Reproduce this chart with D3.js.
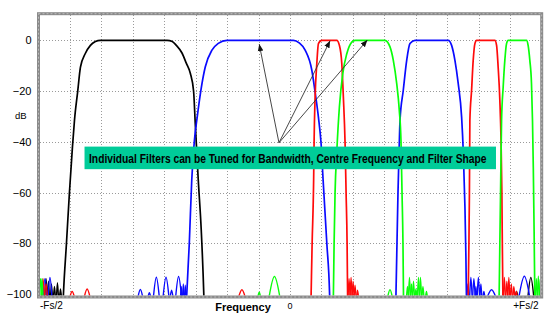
<!DOCTYPE html>
<html><head><meta charset="utf-8">
<script src="https://cdnjs.cloudflare.com/ajax/libs/d3/7.8.5/d3.min.js"></script>
<style>
html,body{margin:0;padding:0;background:#fff;}
svg{display:block;font-family:"Liberation Sans",Arial,sans-serif;}
</style></head>
<body>
<svg id="chart" width="552" height="323"></svg>
<script>
// ---------- DATA ----------
const freqTicks = [-0.5, 0, 0.5];
const freqTickLabels = ["-Fs/2", "0", "+Fs/2"];
const dbTicks = [0, -20, -40, -60, -80, -100];
const gridFreqs = d3.range(-7, 8).map(k => k / 16);
const gridDbs = [0, -20, -40, -60, -80];

// filter main responses [normalised frequency, dB]
const filterBlack = [[-0.4524,-110],[-0.4504,-100],[-0.4444,-80],[-0.4385,-60],[-0.4325,-42],[-0.4285,-31.6],[-0.4220,-20],[-0.4166,-10.6],[-0.4067,-5.1],[-0.3968,-2],[-0.3869,-0.5],[-0.3770,0],
  [-0.2445,0],[-0.2340,-0.5],[-0.2260,-2],[-0.2147,-5],[-0.2062,-9],[-0.1982,-13],[-0.1917,-20],[-0.1883,-33],[-0.1824,-55],[-0.1764,-75],[-0.1714,-100],[-0.1700,-110]];
const filterBlue1 = [[-0.2072,-110],[-0.2052,-100],[-0.2002,-80],[-0.1953,-55],[-0.1903,-40],[-0.1843,-30],[-0.1774,-20],[-0.1685,-10.5],[-0.1552,-3.9],[-0.1426,-1.2],[-0.1254,0],
  [0.0068,0],[0.0182,-1],[0.0301,-3.9],[0.0434,-11.8],[0.0499,-20.4],[0.0565,-30.3],[0.0618,-40.7],[0.0658,-55],[0.0732,-80],[0.0787,-100],[0.0800,-110]];
const filterRed1 = [[0.0410,-110],[0.0420,-100],[0.0440,-80],[0.0470,-55],[0.0479,-40],[0.0499,-22.4],[0.0533,-9.2],[0.0565,-1.3],[0.0632,0],
  [0.0930,0],[0.0982,-2],[0.1029,-9],[0.1061,-22.4],[0.1095,-40.6],[0.1115,-60],[0.1135,-80],[0.1145,-100],[0.1155,-110]];
const filterGreen1 = [[0.0853,-110],[0.0863,-100],[0.0877,-80],[0.0896,-60],[0.0930,-44],[0.0982,-26.3],[0.1049,-13.1],[0.1129,-5.3],[0.1228,-0.7],[0.1293,0],
  [0.1889,0],[0.1988,-2.6],[0.2054,-7.9],[0.2121,-17],[0.2173,-27.6],[0.2207,-40],[0.2227,-60],[0.2246,-80],[0.2256,-100],[0.2266,-110]];
const filterBlue2 = [[0.2097,-110],[0.2107,-100],[0.2127,-80],[0.2147,-60],[0.2167,-45],[0.2187,-31.6],[0.2252,-19.7],[0.2320,-7.9],[0.2385,-1.3],[0.2485,0],
  [0.3146,0],[0.3213,-2],[0.3279,-7.9],[0.3344,-17],[0.3412,-30.3],[0.3447,-45],[0.3477,-65],[0.3497,-85],[0.3507,-100],[0.3517,-110]];
const filterRed2 = [[0.3533,-110],[0.3543,-100],[0.3557,-80],[0.3567,-60],[0.3576,-31.6],[0.3610,-19.7],[0.3642,-7.9],[0.3676,-1.3],[0.3710,0],
  [0.4073,0],[0.4107,-2],[0.4138,-10.5],[0.4172,-23.7],[0.4196,-40],[0.4212,-60],[0.4221,-80],[0.4232,-100],[0.4242,-110]];
const filterGreen2 = [[0.4148,-110],[0.4158,-100],[0.4172,-80],[0.4186,-60],[0.4206,-31.6],[0.4238,-18.4],[0.4271,-7.9],[0.4305,-1.3],[0.4337,0],
  [0.4702,0],[0.4734,-2],[0.4768,-7.9],[0.4801,-17],[0.4821,-31.6],[0.4837,-50],[0.4853,-75],[0.4867,-100],[0.4877,-110]];

// stopband side lobes [centre frequency, lobe width, peak dB]
const lobesBlack = [[-0.4850,0.005,-94],[-0.4802,0.004,-95],[-0.4742,0.004,-96],[-0.4683,0.004,-97],[-0.4623,0.004,-95.5],[-0.4563,0.004,-98],[0.4504,0.006,-99],[0.4788,0.012,-93.5]];
const lobesBlue = [[-0.4871,0.008,-94],[-0.4772,0.008,-93.5],[-0.2975,0.010,-98.2],[-0.2796,0.006,-99.5],[-0.2657,0.012,-93.4],[-0.2465,0.012,-93.4],[-0.2354,0.006,-98.5],[-0.2215,0.012,-93.1],[-0.2161,0.003,-97],[-0.2121,0.003,-96],[-0.2082,0.003,-96.5],
  [0.3537,0.004,-96],[0.3596,0.005,-93.5],[0.3656,0.005,-94],[0.3696,0.003,-97],[0.3745,0.005,-93.5],[0.3795,0.004,-96],[0.3855,0.004,-99],[0.4007,0.018,-98.3],[0.4659,0.022,-93]];
const lobesRed = [[-0.4911,0.006,-94],[-0.4851,0.006,-96],[-0.4331,0.010,-99],[-0.4033,0.012,-98],[-0.0956,0.014,-98.3],
  [0.1174,0.004,-94],[0.1214,0.004,-93.5],[0.1254,0.004,-95],[0.1293,0.004,-96.5],[0.1343,0.004,-98.5],
  [0.4262,0.004,-93.5],[0.4311,0.004,-95],[0.4351,0.004,-93.5],[0.4400,0.004,-96],[0.4450,0.004,-97],[0.4500,0.004,-99]];
const lobesGreen = [[-0.4960,0.005,-94],[-0.4931,0.004,-94],[-0.0612,0.006,-99.3],[-0.0309,0.022,-93.1],[0.1988,0.010,-98.3],
  [0.2336,0.004,-97],[0.2375,0.004,-93.5],[0.2415,0.004,-96],[0.2455,0.004,-95],[0.2504,0.004,-98],[0.2554,0.004,-93.5],[0.2594,0.004,-93.5],[0.2643,0.004,-97],[0.2713,0.004,-99],
  [0.4897,0.004,-94],[0.4937,0.004,-93],[0.4976,0.004,-94]];

// annotation (data coordinates)
const noteText = "Individual Filters can be Tuned for Bandwidth, Centre Frequency and Filter Shape";
const noteBoxCorners = [[-0.4085,-41.9],[0.4095,-50.8]];
const arrowOrigin = [-0.0219,-40.4];
const arrowTargets = [[-0.0612,-1.5],[0.0797,-0.2],[0.1538,0.1]];

// ---------- CHART ----------
const svg = d3.select("#chart");
const x = d3.scaleLinear().domain([-0.5, 0.5]).range([38.5, 541.5]);
const y = d3.scaleLinear().domain([-100, 0]).range([294, 40.3]);
const plotTop = 15, plotBottom = 295.5, plotLeft = 40, plotRight = 540;

const defs = svg.append("defs");
defs.append("clipPath").attr("id","clip")
  .append("rect").attr("x",plotLeft).attr("y",plotTop).attr("width",plotRight-plotLeft).attr("height",plotBottom-plotTop);
defs.append("marker").attr("id","ah").attr("viewBox","0 0 10 10").attr("refX",10).attr("refY",5)
  .attr("markerWidth",7).attr("markerHeight",7).attr("markerUnits","userSpaceOnUse").attr("orient","auto")
  .append("path").attr("d","M0,1 L10,5 L0,9 Z").attr("fill","#111");

// grid
const grid = svg.append("g").attr("stroke","#9a9a9a").attr("stroke-width",1).attr("stroke-dasharray","1,2");
grid.selectAll("line.v").data(gridFreqs).join("line").attr("class","v")
  .attr("x1",d=>Math.round(x(d))+0.5).attr("x2",d=>Math.round(x(d))+0.5).attr("y1",plotTop).attr("y2",plotBottom);
grid.selectAll("line.h").data(gridDbs).join("line").attr("class","h")
  .attr("y1",d=>Math.round(y(d))+0.5).attr("y2",d=>Math.round(y(d))+0.5).attr("x1",plotLeft).attr("x2",plotRight);

// curves
const plot = svg.append("g").attr("clip-path","url(#clip)");
const line = d3.line().x(d=>x(d[0])).y(d=>y(d[1])).curve(d3.curveMonotoneX);
const lobeLine = d3.line().x(d=>x(d[0])).y(d=>y(d[1])).curve(d3.curveNatural);
const lobePts = l => [[l[0]-l[1]/2,-101.5],[l[0],l[2]],[l[0]+l[1]/2,-101.5]];

const series = [
  {curves:[filterBlack], lobes:lobesBlack, color:"#000000"},
  {curves:[filterBlue1, filterBlue2], lobes:lobesBlue, color:"#0a0aff"},
  {curves:[filterRed1, filterRed2], lobes:lobesRed, color:"#ff0a0a"},
  {curves:[filterGreen1, filterGreen2], lobes:lobesGreen, color:"#0aff0a"}
];
series.forEach(s=>{
  const g = plot.append("g").attr("fill","none").attr("stroke",s.color).attr("stroke-width",1.7);
  g.selectAll("path.lobe").data(s.lobes).join("path").attr("class","lobe").attr("d",l=>lobeLine(lobePts(l))).attr("stroke-width",1.4);
  g.selectAll("path.main").data(s.curves).join("path").attr("class","main").attr("d",line);
});

// frame
svg.append("rect").attr("x",38.5).attr("y",13.7).attr("width",541.7-38.5).attr("height",297-13.7)
  .attr("fill","none").attr("stroke","#8a8a8a").attr("stroke-width",3);
svg.append("rect").attr("x",38.5).attr("y",13.7).attr("width",541.7-38.5).attr("height",297-13.7)
  .attr("fill","none").attr("stroke","#c8c8c8").attr("stroke-width",0.8).attr("stroke-dasharray","2,2");

// arrows
svg.append("g").selectAll("line").data(arrowTargets).join("line")
  .attr("x1",x(arrowOrigin[0])).attr("y1",y(arrowOrigin[1]))
  .attr("x2",d=>x(d[0])).attr("y2",d=>y(d[1]))
  .attr("stroke","#333").attr("stroke-width",0.9).attr("marker-end","url(#ah)");

// note box
const bx0 = x(noteBoxCorners[0][0]), by0 = y(noteBoxCorners[0][1]);
const bx1 = x(noteBoxCorners[1][0]), by1 = y(noteBoxCorners[1][1]);
svg.append("rect").attr("x",bx0).attr("y",by0).attr("width",bx1-bx0).attr("height",by1-by0).attr("fill","#00cc99");
const noteCx = (bx0+bx1)/2 - 2.5;
const note = svg.append("text").attr("x",0).attr("y",0).attr("text-anchor","middle")
  .attr("font-size",13.5).attr("font-weight","bold").attr("fill","#000")
  .attr("font-family","'Liberation Sans Narrow','Liberation Sans',Arial,sans-serif")
  .text(noteText);
const natW = note.node().getComputedTextLength();
const sx = 398 / natW;
note.attr("transform",`translate(${noteCx},${by0+16.6}) scale(${sx},1)`);

// y axis labels
const yAxis = d3.axisLeft(y).tickValues(dbTicks).tickSize(0).tickPadding(0).tickFormat(d3.format("d"));
const ya = svg.append("g").attr("transform","translate(31.5,0)").call(yAxis);
ya.select(".domain").remove();
ya.selectAll("text").attr("font-size",11).attr("fill","#000").attr("font-family","'Liberation Sans',Arial,sans-serif");
svg.append("text").attr("x",15).attr("y",118.5).attr("font-size",9.5).text("dB");

// x axis labels
const xAnchors = ["start","middle","end"];
const xOffsets = [1.5, 0, -3];
const xSizes = [10, 9, 10];
svg.append("g").selectAll("text").data(freqTicks).join("text")
  .attr("x",(d,i)=>x(d)+xOffsets[i]).attr("y",(d,i)=>i===1?309.3:308.8)
  .attr("text-anchor",(d,i)=>xAnchors[i]).attr("font-size",(d,i)=>xSizes[i])
  .text((d,i)=>freqTickLabels[i]);
svg.append("text").attr("x",243).attr("y",310.8).attr("text-anchor","middle")
  .attr("font-size",11).attr("font-weight","bold").text("Frequency");
</script>
</body></html>
